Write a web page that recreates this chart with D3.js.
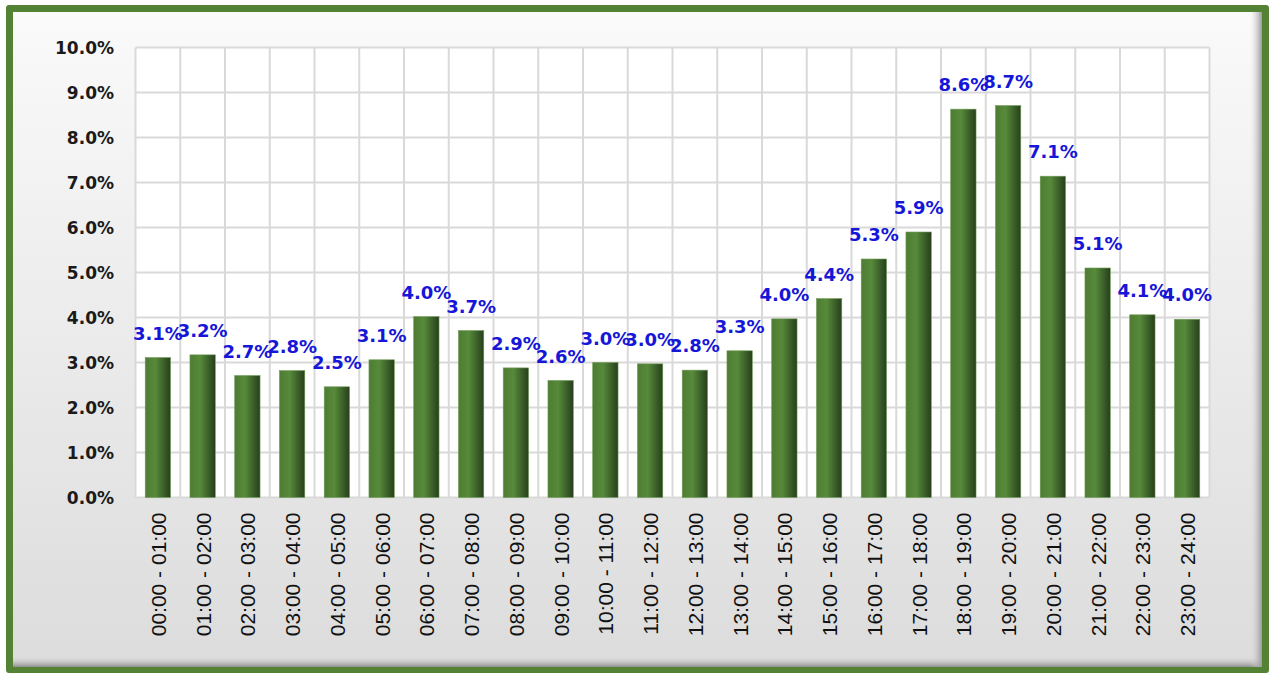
<!DOCTYPE html>
<html>
<head>
<meta charset="utf-8">
<script src="https://cdn.jsdelivr.net/npm/d3@7/dist/d3.min.js"></script>
<style>
  html, body { margin: 0; padding: 0; background: #ffffff; }
  svg { display: block; }
</style>
</head>
<body>
<svg id="chart" width="1269" height="673"></svg>
<script>
const categories = ["00:00 - 01:00","01:00 - 02:00","02:00 - 03:00","03:00 - 04:00","04:00 - 05:00","05:00 - 06:00",
  "06:00 - 07:00","07:00 - 08:00","08:00 - 09:00","09:00 - 10:00","10:00 - 11:00","11:00 - 12:00",
  "12:00 - 13:00","13:00 - 14:00","14:00 - 15:00","15:00 - 16:00","16:00 - 17:00","17:00 - 18:00",
  "18:00 - 19:00","19:00 - 20:00","20:00 - 21:00","21:00 - 22:00","22:00 - 23:00","23:00 - 24:00"];
const shares = [3.11, 3.17, 2.71, 2.82, 2.46, 3.06, 4.02, 3.71, 2.88, 2.60, 3.00, 2.97,
  2.83, 3.26, 3.97, 4.42, 5.30, 5.90, 8.63, 8.71, 7.14, 5.10, 4.06, 3.96];
const yTicks = [0,1,2,3,4,5,6,7,8,9,10];

const svg = d3.select("#chart");
const defs = svg.append("defs");

const bg = defs.append("linearGradient").attr("id","bg").attr("x1",0).attr("y1",0).attr("x2",0).attr("y2",1);
bg.append("stop").attr("offset","0%").attr("stop-color","#fafafa");
bg.append("stop").attr("offset","100%").attr("stop-color","#dcdcdc");

const shB = defs.append("linearGradient").attr("id","shB").attr("x1",0).attr("y1",0).attr("x2",0).attr("y2",1);
shB.append("stop").attr("offset","0%").attr("stop-color","#dcdcdc").attr("stop-opacity",0);
shB.append("stop").attr("offset","100%").attr("stop-color","#8f8f8f").attr("stop-opacity",1);
const shR = defs.append("linearGradient").attr("id","shR").attr("x1",0).attr("y1",0).attr("x2",1).attr("y2",0);
shR.append("stop").attr("offset","0%").attr("stop-color","#e0e0e0").attr("stop-opacity",0);
shR.append("stop").attr("offset","100%").attr("stop-color","#9a9a9a").attr("stop-opacity",1);

const barG = defs.append("linearGradient").attr("id","barG").attr("x1",0).attr("y1",0).attr("x2",1).attr("y2",0);
barG.append("stop").attr("offset","0%").attr("stop-color","#4e7c33");
barG.append("stop").attr("offset","40%").attr("stop-color","#578a3a");
barG.append("stop").attr("offset","75%").attr("stop-color","#3a5e28");
barG.append("stop").attr("offset","100%").attr("stop-color","#283f1c");

// frame
svg.append("rect").attr("x",6).attr("y",5).attr("width",1263).attr("height",668).attr("fill","#548235").attr("rx",3);
svg.append("rect").attr("x",13).attr("y",12).attr("width",1249).attr("height",655).attr("fill","url(#bg)");
svg.append("rect").attr("x",13).attr("y",656).attr("width",1249).attr("height",11).attr("fill","url(#shB)");
svg.append("rect").attr("x",1250).attr("y",12).attr("width",12).attr("height",655).attr("fill","url(#shR)");

const pL = 135.5, pR = 1209.5, pT = 47.5, pB = 497.5;
const x = d3.scaleBand().domain(categories).range([pL, pR]).paddingInner(0.434).paddingOuter(0.217);
const y = d3.scaleLinear().domain([0, 10]).range([pB, pT]);

svg.append("rect").attr("x",pL).attr("y",pT).attr("width",pR-pL).attr("height",pB-pT).attr("fill","#ffffff");

const grid = svg.append("g");
grid.selectAll("line.h").data(yTicks).enter().append("line")
  .attr("x1",pL).attr("x2",pR).attr("y1",d=>y(d)).attr("y2",d=>y(d))
  .attr("stroke","#d9d9d9").attr("stroke-width",2);
const step = x.step();
const bounds = d3.range(categories.length + 1).map(i => pL + i * step);
grid.selectAll("line.v").data(bounds).enter().append("line")
  .attr("x1",d=>d).attr("x2",d=>d).attr("y1",pT).attr("y2",pB)
  .attr("stroke","#d9d9d9").attr("stroke-width",2);

// y axis
const yAxis = d3.axisLeft(y).tickValues(yTicks).tickSize(0).tickPadding(0).tickFormat(d => d.toFixed(1) + "%");
const ya = svg.append("g").attr("transform",`translate(${114},0)`).call(yAxis);
ya.select(".domain").remove();
ya.selectAll("text").attr("font-family","'DejaVu Sans', sans-serif").attr("font-weight","bold")
  .attr("font-size","17px").attr("fill","#1a1a1a").attr("dy","0.35em");

// x axis
const xAxis = d3.axisBottom(x).tickSize(0).tickPadding(0);
const xa = svg.append("g").attr("transform",`translate(0,${pB})`).call(xAxis);
xa.select(".domain").remove();
xa.selectAll("text")
  .attr("font-family","'Liberation Sans', Arial, sans-serif").attr("font-size","21px").attr("fill","#111")
  .attr("text-anchor","end").attr("dy",null).attr("y",null)
  .attr("transform","translate(8,15) rotate(-90)");

// bars
svg.append("g").selectAll("rect").data(shares).enter().append("rect")
  .attr("x",(d,i)=>x(categories[i])).attr("width",x.bandwidth())
  .attr("y",d=>y(d)).attr("height",d=>pB - y(d))
  .attr("fill","url(#barG)").attr("stroke","#6f9a57").attr("stroke-width",0.6);

// labels
svg.append("g").selectAll("text").data(shares).enter().append("text")
  .attr("x",(d,i)=>x(categories[i]) + x.bandwidth()/2)
  .attr("y",d=>y(d) - 18)
  .attr("text-anchor","middle")
  .attr("font-family","'DejaVu Sans', sans-serif").attr("font-weight","bold").attr("font-size","18px")
  .attr("fill","#1616d8")
  .text(d => d3.format(".1f")(d) + "%");
</script>
</body>
</html>
